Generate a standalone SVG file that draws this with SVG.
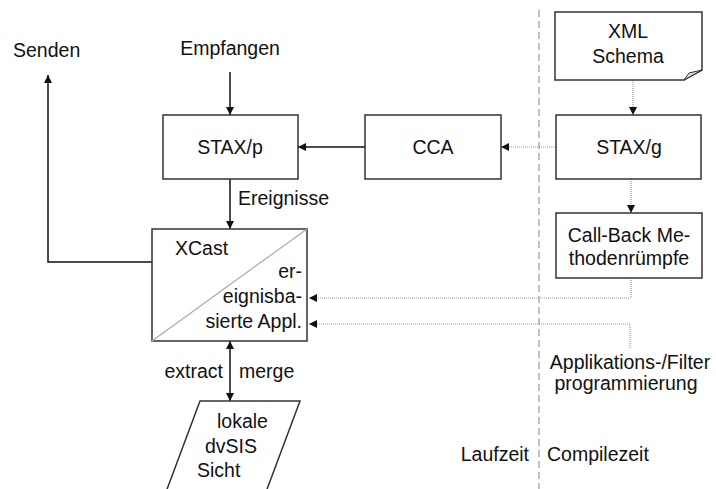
<svg xmlns="http://www.w3.org/2000/svg" width="716" height="489" viewBox="0 0 716 489">
  <defs>
    <marker id="arr" viewBox="0 0 10 10" refX="10" refY="5" markerWidth="8" markerHeight="8" markerUnits="userSpaceOnUse" orient="auto-start-reverse">
      <path d="M0,0 L10,5 L0,10 Z" fill="#111"/>
    </marker>
    <style>
      text { font-family: "Liberation Sans", Arial, sans-serif; font-size: 19.5px; fill: #111; }
      .c { text-anchor: middle; }
      .r { text-anchor: end; }
      .box { fill: #fff; stroke: #333; stroke-width: 1.5; }
      .solid { fill: none; stroke: #111; stroke-width: 1.5; }
      .dot { fill: none; stroke: #999; stroke-width: 1.2; stroke-dasharray: 1 1; }
      .sep { fill: none; stroke: #999; stroke-width: 1.2; stroke-dasharray: 7 4; }
    </style>
  </defs>

  <rect width="716" height="489" fill="#fff"/>

  <!-- runtime / compile-time separator -->
  <line class="sep" x1="539" y1="10" x2="539" y2="489"/>

  <!-- connectors -->
  <g id="connectors">
    <line class="solid" x1="230" y1="72" x2="230" y2="115" marker-end="url(#arr)"/>
    <polyline class="solid" points="152,262 48,262 48,75" marker-end="url(#arr)"/>
    <line class="solid" x1="365" y1="147" x2="298" y2="147" marker-end="url(#arr)"/>
    <line class="solid" x1="230" y1="179" x2="230" y2="229" marker-end="url(#arr)"/>
    <line class="solid" x1="230" y1="341" x2="230" y2="401" marker-start="url(#arr)" marker-end="url(#arr)"/>
    <line class="dot" x1="556" y1="147" x2="501" y2="147" marker-end="url(#arr)"/>
    <line class="dot" x1="633" y1="80" x2="633" y2="115" marker-end="url(#arr)"/>
    <line class="dot" x1="631" y1="179" x2="631" y2="213" marker-end="url(#arr)"/>
    <polyline class="dot" points="631,278 631,298 309,298" marker-end="url(#arr)"/>
    <polyline class="dot" points="630,348 630,324 309,324" marker-end="url(#arr)"/>
  </g>

  <!-- free labels -->
  <text x="13" y="57">Senden</text>
  <text class="c" x="230" y="55">Empfangen</text>
  <text x="238" y="205">Ereignisse</text>
  <text class="r" x="223" y="378">extract</text>
  <text x="239" y="378">merge</text>
  <text class="r" x="529" y="461">Laufzeit</text>
  <text x="547" y="461">Compilezeit</text>
  <text class="c" x="630" y="369">Applikations-/Filter</text>
  <text class="c" x="626" y="390">programmierung</text>

  <g id="xml-schema">
    <path class="box" d="M555,12 H702 V70 L684,80 H555 Z"/>
    <path d="M684,80 L689,73 L702,70 Z" fill="#ddd" stroke="#333" stroke-width="1"/>
    <text class="c" x="628" y="38">XML</text>
    <text class="c" x="628" y="63">Schema</text>
  </g>

  <g id="stax-g">
    <rect class="box" x="556" y="115" width="145" height="64"/>
    <text class="c" x="629" y="154">STAX/g</text>
  </g>

  <g id="cca">
    <rect class="box" x="365" y="115" width="136" height="64"/>
    <text class="c" x="433" y="154">CCA</text>
  </g>

  <g id="stax-p">
    <rect class="box" x="163" y="115" width="135" height="64"/>
    <text class="c" x="230" y="154">STAX/p</text>
  </g>

  <g id="callback">
    <rect class="box" x="556" y="213" width="146" height="65"/>
    <text class="c" x="629" y="242">Call-Back Me-</text>
    <text class="c" x="629" y="265">thodenrümpfe</text>
  </g>

  <g id="xcast">
    <rect class="box" x="152" y="229" width="155" height="112"/>
    <line x1="152" y1="341" x2="307" y2="229" stroke="#aaa" stroke-width="1.2"/>
    <text x="175" y="255">XCast</text>
    <text class="r" x="302" y="278">er-</text>
    <text class="r" x="302" y="303">eignisba-</text>
    <text class="r" x="302" y="328">sierte Appl.</text>
  </g>

  <g id="local-view">
    <path class="box" d="M200,401 H300 L263,500 H163 Z"/>
    <text x="217" y="428">lokale</text>
    <text x="205" y="453">dvSIS</text>
    <text x="197" y="477">Sicht</text>
  </g>
</svg>
